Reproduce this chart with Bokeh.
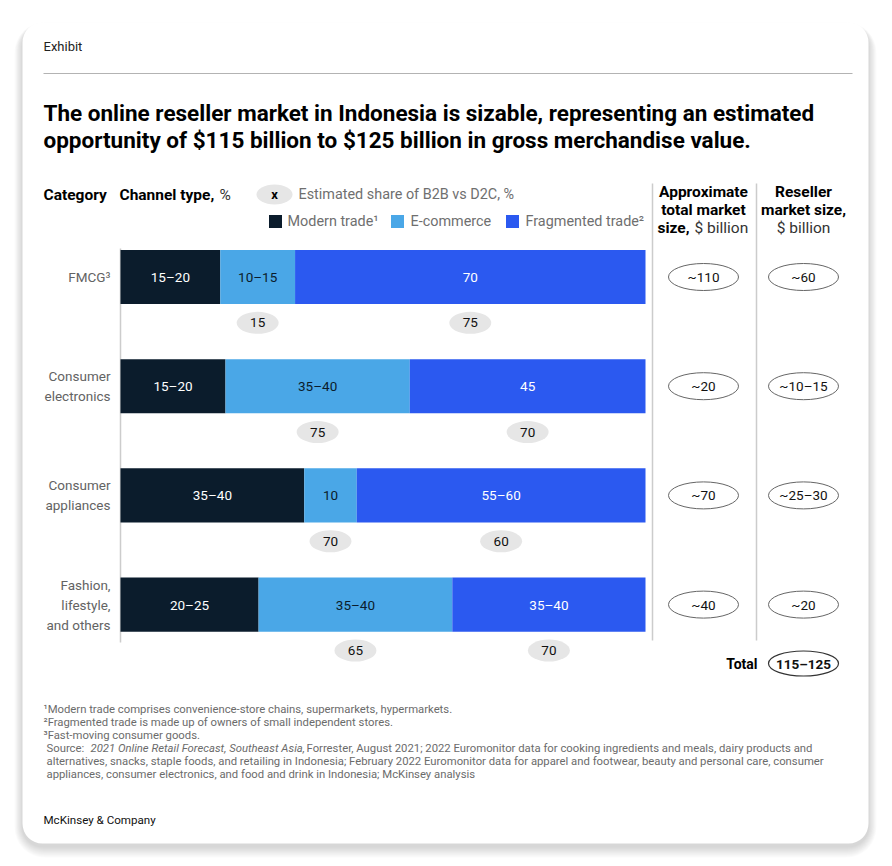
from bokeh.plotting import figure
from bokeh.models import ColumnDataSource, Range1d
from bokeh.core.properties import value
from bokeh.embed import file_html
from bokeh.resources import INLINE
import numpy as np

# ---------------- data ----------------
categories = ["FMCG³", "Consumer\nelectronics", "Consumer\nappliances", "Fashion,\nlifestyle,\nand others"]
modern_share = [19.0, 20.0, 35.0, 26.3]
ecommerce_share = [14.25, 35.1, 10.0, 36.9]
fragmented_share = [66.75, 44.9, 55.0, 36.8]
modern_labels = ["15–20", "15–20", "35–40", "20–25"]
ecommerce_labels = ["10–15", "35–40", "10", "35–40"]
fragmented_labels = ["70", "45", "55–60", "35–40"]
b2b_ecommerce = ["15", "75", "70", "65"]
b2b_fragmented = ["75", "70", "60", "70"]
total_market = ["~110", "~20", "~70", "~40"]
reseller_market = ["~60", "~10–15", "~25–30", "~20"]
reseller_total = ["115–125"]
series_names = ["Modern trade¹", "E-commerce", "Fragmented trade²"]
series_colors = ["#0b1c2c", "#4aa7e7", "#2b59f0"]

FONT = "Roboto"
W, H = 884, 858

# page-pixel -> data helpers (layout only)
def X(px):
    return (px - 120) / 5.25

def Y(py):
    return (py - 276.5) / 109.2

p = figure(width=W, height=H, output_backend="svg", toolbar_location=None,
           x_range=Range1d(X(0), X(W)), y_range=Range1d(Y(H), Y(0)),
           x_axis_location=None, y_axis_location=None, min_border=0)
p.outline_line_color = None
p.grid.visible = False
p.background_fill_color = "white"
p.border_fill_color = "white"

# ---------- card with soft shadow ----------
for i in range(10, 0, -1):
    p.quad(left=[X(22 - i * 0.8)], right=[X(868 + i * 0.8)], top=[Y(22 - i * 0.3 + 3)],
           bottom=[Y(843 + i * 1.1 + 3)], fill_color="black", fill_alpha=0.014,
           line_color=None, border_radius=20 + i)
p.quad(left=[X(22)], right=[X(868)], top=[Y(22)], bottom=[Y(843)], fill_color="white",
       line_color=None, border_radius=20)

def txt(px, py, s, size=13, color="#000000", style="normal", align="left", baseline="middle", lh=1.2):
    p.text(x=[X(px)], y=[Y(py)], text=[s], text_font=value(FONT), text_font_size=f"{size}px",
           text_color=color, text_font_style=style, text_align=align, text_baseline=baseline,
           text_line_height=lh)

# header
txt(43, 46, "Exhibit", size=13, color="#222222")
p.segment(x0=[X(43)], x1=[X(852)], y0=[Y(73)], y1=[Y(73)], line_color="#b3b3b3", line_width=1)
txt(43, 112, "The online reseller market in Indonesia is sizable, representing an estimated", size=22.5, style="bold")
txt(43, 139, "opportunity of $115 billion to $125 billion in gross merchandise value.", size=22.5, style="bold")

# column headers
HS = 15.5
txt(43, 194, "Category", size=HS, style="bold")
txt(119, 194, "Channel type,", size=HS, style="bold")
txt(219, 194, "%", size=HS, color="#333333")
txt(703, 191, "Approximate", size=HS, style="bold", align="center")
txt(703, 209, "total market", size=HS, style="bold", align="center")
txt(689, 227, "size,", size=HS, style="bold", align="right")
txt(694, 227, "$ billion", size=HS, color="#333333")
txt(803, 191, "Reseller", size=HS, style="bold", align="center")
txt(803, 209, "market size,", size=HS, style="bold", align="center")
txt(803, 227, "$ billion", size=HS, color="#333333", align="center")

# legend
p.ellipse(x=[X(274)], y=[Y(194)], width=36, height=20, width_units="screen", height_units="screen",
          fill_color="#e6e6e6", line_color=None)
txt(274, 194, "x", size=13, style="bold", align="center")
txt(298, 194, "Estimated share of B2B vs D2C, %", size=14.4, color="#6f6f6f")
leg_sq_x = [275, 397, 512]
leg_tx_x = [287, 410, 525]
for sx, tx, name, col in zip(leg_sq_x, leg_tx_x, series_names, series_colors):
    p.rect(x=[X(sx)], y=[Y(221)], width=13, height=13, width_units="screen", height_units="screen",
           fill_color=col, line_color=None)
    txt(tx, 221, name, size=14.4, color="#6f6f6f")

# separators / axis line
p.segment(x0=[X(120)], x1=[X(120)], y0=[Y(248)], y1=[Y(642)], line_color="#cccccc", line_width=1.5)
p.segment(x0=[X(652), X(756)], x1=[X(652), X(756)], y0=[Y(183)] * 2, y1=[Y(640)] * 2,
          line_color="#cccccc", line_width=1.5)

# ---------------- bars ----------------
rows = list(range(len(categories)))
src = ColumnDataSource(dict(row=rows, modern=modern_share, ecom=ecommerce_share, frag=fragmented_share))
p.hbar_stack(["modern", "ecom", "frag"], y="row", height=0.495, color=series_colors, line_color=None,
             source=src)

m = np.array(modern_share)
e = np.array(ecommerce_share)
f = np.array(fragmented_share)
mid_m = m / 2
mid_e = m + e / 2
mid_f = m + e + f / 2
rows_a = np.array(rows, dtype=float)

lab = ColumnDataSource(dict(
    x=list(mid_m) + list(mid_e) + list(mid_f),
    y=list(rows_a) * 3,
    t=modern_labels + ecommerce_labels + fragmented_labels,
    c=["white"] * 4 + ["#0b1c2c"] * 4 + ["white"] * 4,
))
p.text(x="x", y="y", text="t", text_color="c", source=lab, text_font=value(FONT),
       text_font_size="13.5px", text_align="center", text_baseline="middle")

# category labels
p.text(x=[X(110)] * 4, y=rows, text=categories, text_font=value(FONT), text_font_size="13.5px",
       text_color="#636363", text_align="right", text_baseline="middle", text_line_height=1.25)

# B2B pills
pill = ColumnDataSource(dict(x=list(mid_e) + list(mid_f), y=list(rows_a + 0.42) * 2,
                             t=b2b_ecommerce + b2b_fragmented))
p.ellipse(x="x", y="y", width=42, height=22, width_units="screen", height_units="screen",
          fill_color="#e6e6e6", line_color=None, source=pill)
p.text(x="x", y="y", text="t", source=pill, text_font=value(FONT), text_font_size="13.5px",
       text_color="#111111", text_align="center", text_baseline="middle")

# market size ovals
col1, col2 = X(703), X(803)
ov = ColumnDataSource(dict(x=[col1] * 4 + [col2] * 4, y=rows + rows, t=total_market + reseller_market))
p.ellipse(x="x", y="y", width=70, height=27, width_units="screen", height_units="screen",
          fill_color="white", line_color="#666666", line_width=1, source=ov)
p.text(x="x", y="y", text="t", source=ov, text_font=value(FONT), text_font_size="13.5px",
       text_color="#111111", text_align="center", text_baseline="middle")

# total
tot = ColumnDataSource(dict(x=[col2], y=[Y(663)], t=reseller_total))
p.ellipse(x="x", y="y", width=70, height=25, width_units="screen", height_units="screen",
          fill_color="white", line_color="#333333", line_width=1.2, source=tot)
p.text(x="x", y="y", text="t", source=tot, text_font=value(FONT), text_font_size="13.5px",
       text_font_style="bold", text_color="#111111", text_align="center", text_baseline="middle")
txt(757, 663, "Total", size=14, style="bold", align="right")

# footnotes
fn_col = "#6b6b6b"
FS = 11.3
txt(43, 709, "¹Modern trade comprises convenience-store chains, supermarkets, hypermarkets.", size=FS, color=fn_col)
txt(43, 722, "²Fragmented trade is made up of owners of small independent stores.", size=FS, color=fn_col)
txt(43, 735, "³Fast-moving consumer goods.", size=FS, color=fn_col)
txt(46, 748, "Source:", size=FS, color=fn_col)
txt(90, 748, "2021 Online Retail Forecast, Southeast Asia,", size=FS, color=fn_col, style="italic")
txt(306, 748, "Forrester, August 2021; 2022 Euromonitor data for cooking ingredients and meals, dairy products and",
    size=FS, color=fn_col)
txt(46, 761, "alternatives, snacks, staple foods, and retailing in Indonesia; February 2022 Euromonitor data for apparel and footwear, beauty and personal care, consumer",
    size=FS, color=fn_col)
txt(46, 774, "appliances, consumer electronics, and food and drink in Indonesia; McKinsey analysis", size=FS, color=fn_col)
txt(43, 819, "McKinsey & Company", size=11.6, color="#111111")

open("out.html", "w").write(file_html(p, INLINE))
